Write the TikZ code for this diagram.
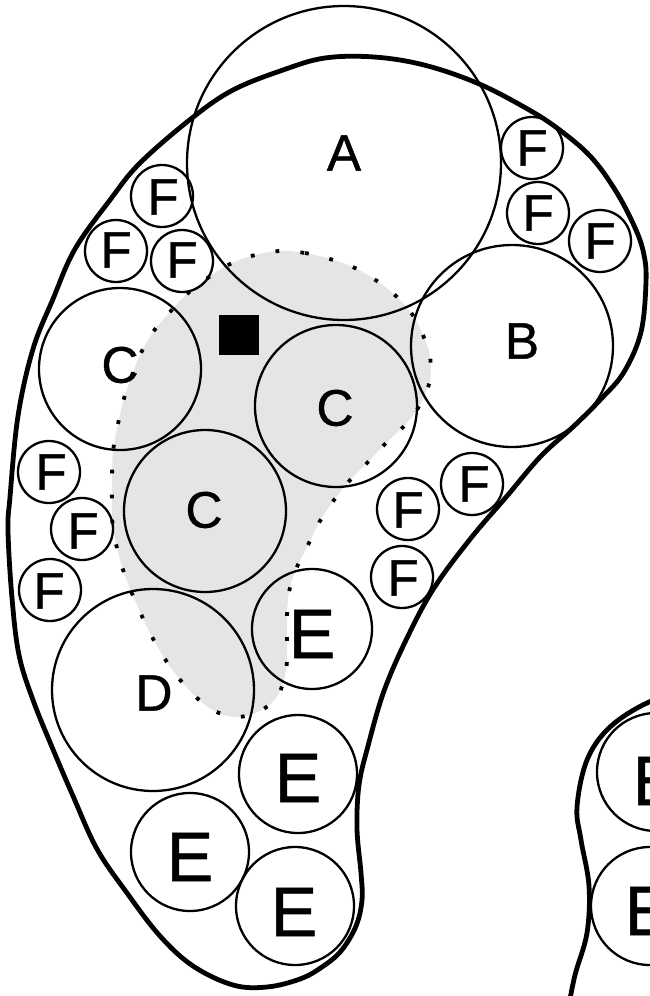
\documentclass[tikz,border=0pt]{standalone}
\usepackage{fontspec}
\setmainfont{Liberation Sans}
\newfontface\labfont[FakeBold=0.8]{Liberation Sans}
\begin{document}
\begin{tikzpicture}[x=0.5pt,y=-0.5pt,
  ring/.style={draw,circle,line width=1.15pt,inner sep=0pt,minimum size=#1*1pt},
  lab/.style={inner sep=0pt,font=\labfont\fontsize{25.7pt}{30pt}\selectfont},
  labE/.style={inner sep=0pt,font=\labfont\fontsize{35pt}{40pt}\selectfont},
  outline/.style={line width=2.4pt,line join=round},
  region/.style={fill=gray!20},
  regionborder/.style={line width=1.9pt,dash pattern=on 1.9pt off 10.6pt}]
\useasboundingbox (0,0) rectangle (649,996);
% shaded region
\path[region] plot[smooth cycle,tension=0.6] coordinates {
(280,251) (305,253) (330,259) (355,268) (377,281) (397,297) (414,317) (425,340) (430,356) (430,380) (421,403) (406,424) (387,442) (369,461) (351,479) (334,500) (320,521) (308,545) (297,567) (289,592) (287,617) (287,645) (286,670) (278,695) (260,711) (235,717) (211,709) (191,692) (174,672) (160,651) (148,629) (137,605) (127,581) (119,556) (113,528) (112,505) (112,479) (113,452) (117,429) (123,402) (131,378) (140,355) (153,332) (170,312) (187,294) (209,277) (230,264) (255,255)};
\draw[regionborder] plot[smooth cycle,tension=0.6] coordinates {
(280,251) (305,253) (330,259) (355,268) (377,281) (397,297) (414,317) (425,340) (430,356) (430,380) (421,403) (406,424) (387,442) (369,461) (351,479) (334,500) (320,521) (308,545) (297,567) (289,592) (287,617) (287,645) (286,670) (278,695) (260,711) (235,717) (211,709) (191,692) (174,672) (160,651) (148,629) (137,605) (127,581) (119,556) (113,528) (112,505) (112,479) (113,452) (117,429) (123,402) (131,378) (140,355) (153,332) (170,312) (187,294) (209,277) (230,264) (255,255)};
% black square
\node[fill=black,inner sep=0pt,minimum size=20pt] (sq) at (239,335) {};
% circles
\node[ring=157] (cA) at (344,163) {};
\node[ring=101] (cB) at (512,346) {};
\node[ring=81] (cC1) at (120,369) {};
\node[ring=81] (cC2) at (336,406) {};
\node[ring=81] (cC3) at (205,511) {};
\node[ring=101] (cD) at (153,690) {};
\node[ring=60] (cE1) at (312,629) {};
\node[ring=59] (cE2) at (298,774) {};
\node[ring=59] (cE3) at (190,852) {};
\node[ring=59] (cE4) at (295,906) {};
\node[ring=59] (cE5) at (656,772) {};
\node[ring=59] (cE6) at (650,906) {};
\node[ring=31] (cF1) at (162,196) {};
\node[ring=31] (cF2) at (116,251) {};
\node[ring=31] (cF3) at (182,261) {};
\node[ring=31] (cF4) at (532,148) {};
\node[ring=31] (cF5) at (538,213) {};
\node[ring=31] (cF6) at (600,241) {};
\node[ring=31] (cF7) at (49,472) {};
\node[ring=31] (cF8) at (82,529) {};
\node[ring=31] (cF9) at (50,590) {};
\node[ring=31] (cF10) at (472,484) {};
\node[ring=31] (cF11) at (408,509) {};
\node[ring=31] (cF12) at (402,577) {};
% outline of main shape
\draw[outline] plot[smooth cycle,tension=0.6] coordinates {
(325,58) (374,57) (424,65) (477,83) (524,107) (557,128) (591,157) (617,193) (636,230) (644,255) (646,282) (641,332) (624,372) (601,399) (574,426) (541,456) (507,496) (471,538) (434,588) (407,638) (384,691) (368,746) (359,785) (357,829) (361,873) (362,900) (356,926) (341,951) (322,967) (300,979) (267,987) (233,985) (193,966) (160,936) (127,893) (97,849) (73,796) (52,747) (33,700) (19,655) (12,598) (8,531) (10,497) (18,416) (33,349) (53,299) (75,249) (110,200) (140,163) (192,118) (233,90) (283,70)};
% partial second shape
\draw[outline] plot[smooth,tension=0.6] coordinates {
(690,690) (649,702) (610,727) (587,760) (577,807) (581,840) (589,886) (587,933) (575,975) (568,1010)};
% labels
\node[lab] (lA) at (344,153) {A};
\node[lab] (lB) at (522,341) {B};
\node[lab] (lC1) at (120,365) {C};
\node[lab] (lC2) at (335,408) {C};
\node[lab] (lC3) at (204,510) {C};
\node[lab] (lD) at (154,693) {D};
\node[labE] (lE1) at (312,634) {E};
\node[labE] (lE2) at (298,778) {E};
\node[labE] (lE3) at (190,857) {E};
\node[labE] (lE4) at (294,912) {E};
\node[labE] (lE5) at (656,781) {E};
\node[labE] (lE6) at (648,911) {E};
\node[lab] (lF1) at (163,197) {F};
\node[lab] (lF2) at (116,250) {F};
\node[lab] (lF3) at (182,260) {F};
\node[lab] (lF4) at (532,148) {F};
\node[lab] (lF5) at (538,213) {F};
\node[lab] (lF6) at (600,241) {F};
\node[lab] (lF7) at (51,472) {F};
\node[lab] (lF8) at (83,531) {F};
\node[lab] (lF9) at (49,591) {F};
\node[lab] (lF10) at (474,484) {F};
\node[lab] (lF11) at (408,510) {F};
\node[lab] (lF12) at (403,578) {F};
\end{tikzpicture}
\end{document}
